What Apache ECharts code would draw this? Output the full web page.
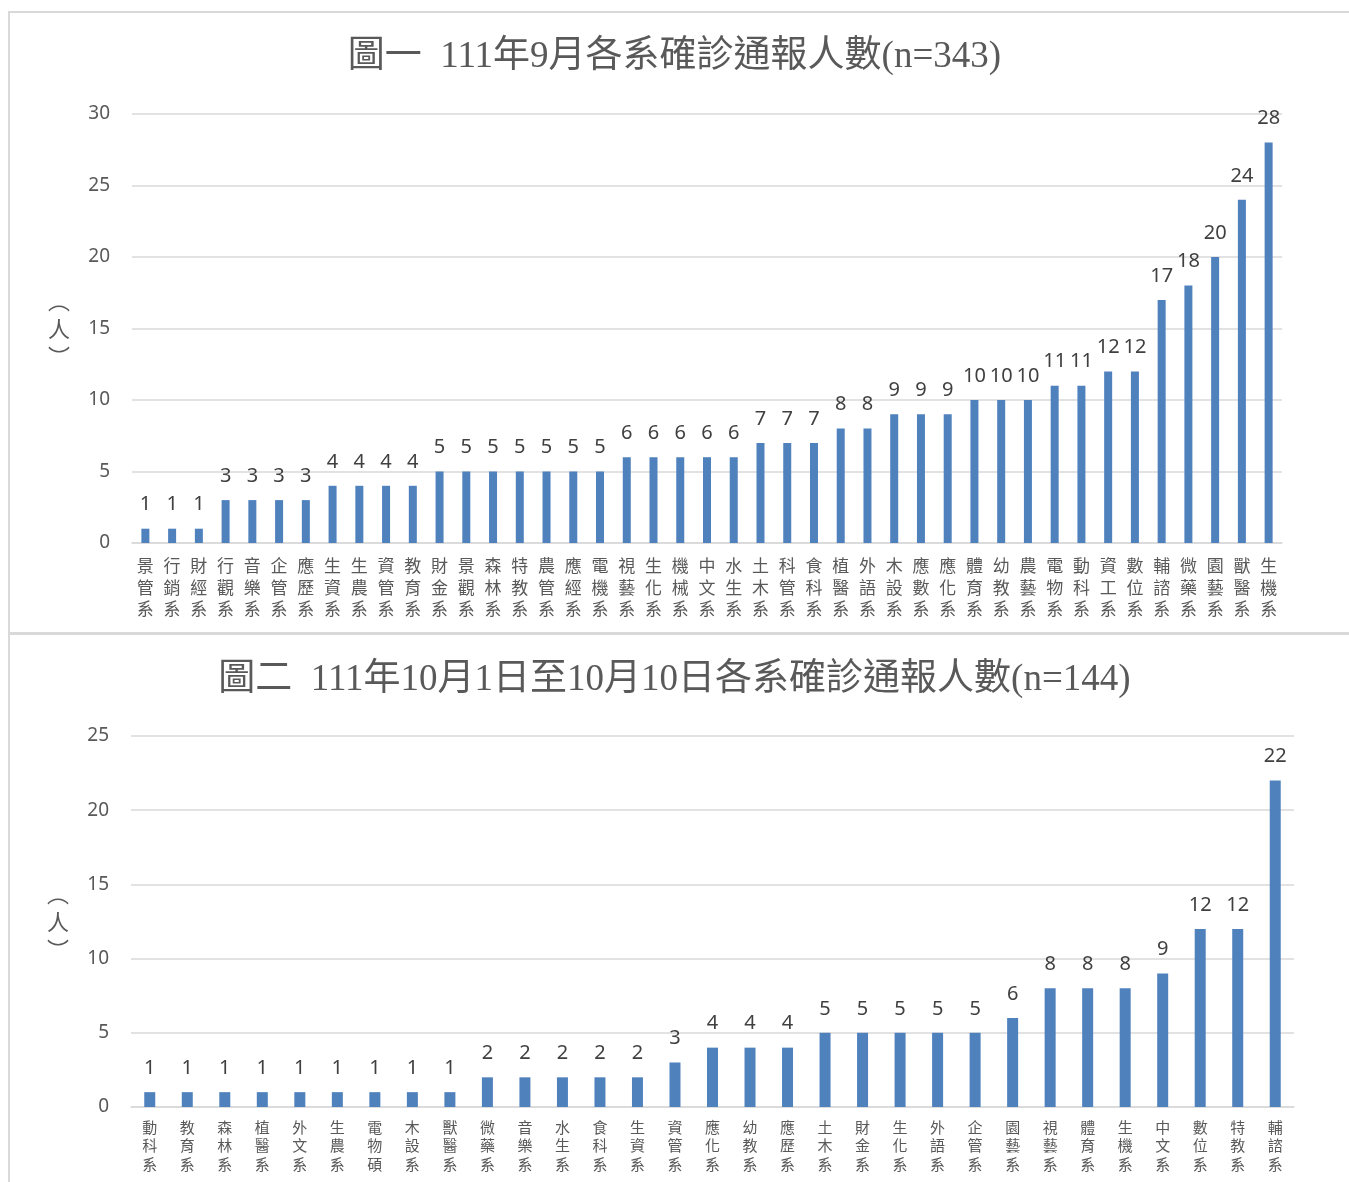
<!DOCTYPE html>
<html>
<head>
<meta charset="utf-8">
<title>各系確診通報人數</title>
<script src="https://cdn.jsdelivr.net/npm/echarts@6/dist/echarts.min.js"></script>
<style>
    html, body {
        margin: 0;
        padding: 0;
        background: #fff;
    }

    #chart {
        width: 1349px;
        height: 1182px;
    }
</style>
</head>
<body>
<div id="chart"></div>
<script>
    // 圖一 111年9月
    const sepDepts = ['景管系', '行銷系', '財經系', '行觀系', '音樂系', '企管系', '應歷系', '生資系', '生農系', '資管系',
        '教育系', '財金系', '景觀系', '森林系', '特教系', '農管系', '應經系', '電機系', '視藝系', '生化系',
        '機械系', '中文系', '水生系', '土木系', '科管系', '食科系', '植醫系', '外語系', '木設系', '應數系',
        '應化系', '體育系', '幼教系', '農藝系', '電物系', '動科系', '資工系', '數位系', '輔諮系', '微藥系',
        '園藝系', '獸醫系', '生機系'];
    const sepCounts = [1, 1, 1, 3, 3, 3, 3, 4, 4, 4,
        4, 5, 5, 5, 5, 5, 5, 5, 6, 6,
        6, 6, 6, 7, 7, 7, 8, 8, 9, 9,
        9, 10, 10, 10, 11, 11, 12, 12, 17, 18,
        20, 24, 28];

    // 圖二 111年10月1日至10月10日
    const octDepts = ['動科系', '教育系', '森林系', '植醫系', '外文系', '生農系', '電物碩', '木設系', '獸醫系', '微藥系',
        '音樂系', '水生系', '食科系', '生資系', '資管系', '應化系', '幼教系', '應歷系', '土木系', '財金系',
        '生化系', '外語系', '企管系', '園藝系', '視藝系', '體育系', '生機系', '中文系', '數位系', '特教系',
        '輔諮系'];
    const octCounts = [1, 1, 1, 1, 1, 1, 1, 1, 1, 2,
        2, 2, 2, 2, 3, 4, 4, 4, 5, 5,
        5, 5, 5, 6, 8, 8, 8, 9, 12, 12,
        22];

    const titles = ['圖一  111年9月各系確診通報人數(n=343)', '圖二  111年10月1日至10月10日各系確診通報人數(n=144)'];
    const yName = '︵\n人\n︶';

    const textColor = '#595959';
    const lineColor = '#d9d9d9';
    const barColor = '#4f81bd';
    const cjk = '"Noto Sans CJK TC", "Noto Sans", sans-serif';

    let myChart = echarts.init(document.getElementById('chart'));

    function vertical(v) {
        return v.split('').join('\n');
    }

    function yAxisOf(idx, max) {
        return {
            type: 'value',
            gridIndex: idx,
            min: 0,
            max: max,
            interval: 5,
            name: yName,
            nameLocation: 'middle',
            nameRotate: 0,
            nameGap: 62,
            nameTextStyle: { color: textColor, fontSize: 22, lineHeight: 28, fontFamily: cjk },
            axisLine: { show: false },
            axisTick: { show: false },
            axisLabel: { color: textColor, fontSize: 19, margin: 22, fontFamily: '"Noto Sans", sans-serif' },
            splitLine: { lineStyle: { color: lineColor, width: 1.5 } }
        };
    }

    function xAxisOf(idx, data, size, lh, margin) {
        return {
            type: 'category',
            gridIndex: idx,
            data: data,
            axisLine: { lineStyle: { color: lineColor, width: 1.5 } },
            axisTick: { show: false },
            axisLabel: {
                interval: 0,
                color: textColor,
                fontSize: size,
                lineHeight: lh,
                margin: margin,
                fontFamily: cjk,
                formatter: vertical
            }
        };
    }

    function seriesOf(idx, data, width) {
        return {
            type: 'bar',
            xAxisIndex: idx,
            yAxisIndex: idx,
            data: data,
            barWidth: width,
            itemStyle: { color: barColor },
            label: {
                show: true,
                position: 'top',
                distance: 14,
                color: '#404040',
                fontSize: 20,
                fontFamily: '"Noto Sans", sans-serif'
            }
        };
    }

    let option = {
        backgroundColor: '#fff',
        animation: false,
        title: [
            {
                text: titles[0],
                left: 'center',
                top: 34,
                textStyle: { color: textColor, fontSize: 37, fontWeight: 'normal', fontFamily: '"Liberation Serif", ' + cjk }
            },
            {
                text: titles[1],
                left: 'center',
                top: 657,
                textStyle: { color: textColor, fontSize: 37, fontWeight: 'normal', fontFamily: '"Liberation Serif", ' + cjk }
            }
        ],
        graphic: [
            {
                type: 'rect',
                shape: { x: 9, y: 12, width: 1345, height: 621 },
                style: { fill: 'none', stroke: lineColor, lineWidth: 2 },
                silent: true
            },
            {
                type: 'rect',
                shape: { x: 9, y: 634, width: 1345, height: 560 },
                style: { fill: 'none', stroke: lineColor, lineWidth: 2 },
                silent: true
            }
        ],
        grid: [
            { left: 132, right: 67, top: 114, height: 429 },
            { left: 131, right: 55, top: 736, height: 371 }
        ],
        xAxis: [
            xAxisOf(0, sepDepts, 17, 21.5, 12),
            xAxisOf(1, octDepts, 15, 18.5, 11)
        ],
        yAxis: [
            yAxisOf(0, 30),
            yAxisOf(1, 25)
        ],
        series: [
            seriesOf(0, sepCounts, 8),
            seriesOf(1, octCounts, 11)
        ]
    };
    myChart.setOption(option);
</script>
</body>
</html>
